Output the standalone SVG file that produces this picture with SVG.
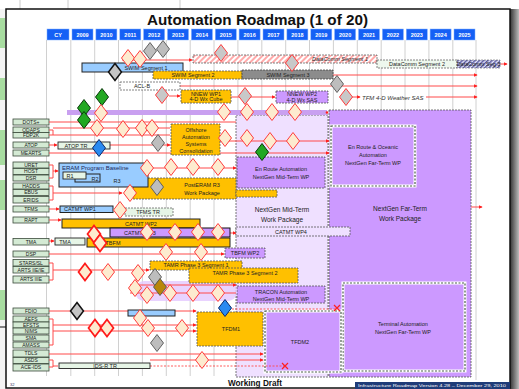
<svg xmlns="http://www.w3.org/2000/svg" width="519" height="389" viewBox="0 0 519 389">
<defs>
<style>
text{font-family:"Liberation Sans",Arial,sans-serif}
.lab{fill:#d4ead4;stroke:#3a4a3a;stroke-width:0.8}
.lt{font-size:5px;fill:#1a1a1a;text-anchor:middle}
.yr{fill:#1560f5;stroke:#7fb0ff;stroke-width:0.5}
.yt{font-size:5.5px;fill:#fff;font-weight:bold;text-anchor:middle}
.grid{stroke:#c4c4c4;stroke-width:0.8}
.rl{stroke:#ff4a4a;stroke-width:1;fill:none}
.rd{stroke:#ff4a4a;stroke-width:0.9;fill:none;stroke-dasharray:2,1.5}
.yel{fill:#ffc000;stroke:#555;stroke-width:0.8;stroke-dasharray:2,1}
.yelS{fill:#ffc000;stroke:#222;stroke-width:1}
.pur{fill:#cc99ff;stroke:#555;stroke-width:0.8;stroke-dasharray:2,1}
.lpur{fill:#efe0ff;stroke:#555;stroke-width:0.8;stroke-dasharray:2,1}
.lb{fill:#99ccff;stroke:#222;stroke-width:1}
.lg{fill:#e6f5e6;stroke:#222;stroke-width:0.9}
.bt{font-size:5.5px;fill:#222;text-anchor:middle}
.bx{font-size:6.5px;fill:#222;text-anchor:middle}
.dp{fill:#fdebcf;stroke:#ff3c3c;stroke-width:1}
.dr{fill:#fdebcf;stroke:#ff1a1a;stroke-width:1.7}
.dg{fill:#bdbdbd;stroke:#555;stroke-width:0.9}
.dpg{fill:#c8c8c8;stroke:#ff3c3c;stroke-width:1}
.dgr{fill:#22a822;stroke:#0a3a0a;stroke-width:1}
.dbl{fill:#2a8af0;stroke:#0a2a6a;stroke-width:1}
.dk{fill:#c4c4c4;stroke:#111;stroke-width:1.5}
.dgo{fill:#b8860b;stroke:#555;stroke-width:0.9}
.dd{stroke:#fff;stroke-width:3;fill:none}
.ddi{stroke:#4d5d4d;stroke-width:1.2;fill:none;stroke-dasharray:2,1.5}
</style>
<path id="dm" d="M0,-8.5 L6.5,0 L0,8.5 L-6.5,0Z"/>
<marker id="ah" viewBox="0 0 6 6" refX="5" refY="3" markerWidth="4" markerHeight="4" orient="auto"><path d="M0,0 L6,3 L0,6Z" fill="#ff2020"/></marker>
<pattern id="hatch" width="4" height="4" patternUnits="userSpaceOnUse" patternTransform="rotate(45)"><rect width="4" height="4" fill="#fff"/><rect width="2" height="4" fill="#ffaaaa"/></pattern>
<pattern id="hatch2" width="3" height="3" patternUnits="userSpaceOnUse" patternTransform="rotate(45)"><rect width="3" height="3" fill="#e8e8ff"/><rect width="1.5" height="3" fill="#5a5aa0"/></pattern>
<linearGradient id="shadow" x1="0" x2="1" y1="0" y2="0"><stop offset="0" stop-color="#333"/><stop offset="1" stop-color="#bbb"/></linearGradient>
</defs>

<!-- background slides -->
<rect x="0" y="0" width="519" height="389" fill="#f4f4f4"/>
<g id="backslides">
<rect x="0" y="0" width="519" height="9" fill="#fff"/>
<line x1="20" y1="0" x2="20" y2="9" stroke="#ccc"/>
<line x1="68" y1="0" x2="68" y2="9" stroke="#ccc"/>
<line x1="180" y1="0" x2="180" y2="9" stroke="#ccc"/>
<rect x="0" y="18" width="5" height="30" fill="#a8dca0"/>
<rect x="0" y="78" width="5" height="22" fill="#a8dca0"/>
<rect x="0" y="130" width="5" height="35" fill="#a8dca0"/>
<rect x="0" y="180" width="5" height="30" fill="#a8dca0"/>
<rect x="0" y="290" width="5" height="30" fill="#a8dca0"/>
<line x1="0" y1="327" x2="6" y2="327" stroke="#111"/>
<rect x="510" y="9" width="9" height="380" fill="url(#shadow)"/>
</g>

<rect id="frame" x="6" y="9" width="504" height="379" fill="#fff" stroke="#111" stroke-width="1.5"/>

<text id="title" x="257.5" y="25" font-size="15" font-weight="bold" text-anchor="middle" textLength="221" lengthAdjust="spacingAndGlyphs" fill="#111">Automation Roadmap (1 of 20)</text>

<!-- grid -->
<g id="grid" class="grid">
<line x1="46.5" y1="40" x2="46.5" y2="376"/>
<line x1="70.8" y1="40" x2="70.8" y2="376"/>
<line x1="94.7" y1="40" x2="94.7" y2="376"/>
<line x1="118.5" y1="40" x2="118.5" y2="376"/>
<line x1="142.4" y1="40" x2="142.4" y2="376"/>
<line x1="166.3" y1="40" x2="166.3" y2="376"/>
<line x1="190.2" y1="40" x2="190.2" y2="376"/>
<line x1="214" y1="40" x2="214" y2="376"/>
<line x1="237.9" y1="40" x2="237.9" y2="376"/>
<line x1="261.8" y1="40" x2="261.8" y2="376"/>
<line x1="285.7" y1="40" x2="285.7" y2="376"/>
<line x1="309.5" y1="40" x2="309.5" y2="376"/>
<line x1="333.4" y1="40" x2="333.4" y2="376"/>
<line x1="357.3" y1="40" x2="357.3" y2="376"/>
<line x1="381.2" y1="40" x2="381.2" y2="376"/>
<line x1="405" y1="40" x2="405" y2="376"/>
<line x1="428.9" y1="40" x2="428.9" y2="376"/>
<line x1="452.8" y1="40" x2="452.8" y2="376"/>
<line x1="476" y1="40" x2="476" y2="380"/>
</g>

<!-- year header -->
<g id="header">
<rect class="yr" x="47" y="29" width="22" height="11"/><text class="yt" x="58" y="36.5">CY</text>
<rect class="yr" x="72" y="29" width="21" height="11"/><text class="yt" x="82.5" y="36.5">2009</text>
<rect class="yr" x="95.9" y="29" width="21" height="11"/><text class="yt" x="106.4" y="36.5">2010</text>
<rect class="yr" x="119.8" y="29" width="21" height="11"/><text class="yt" x="130.3" y="36.5">2011</text>
<rect class="yr" x="143.6" y="29" width="21" height="11"/><text class="yt" x="154.1" y="36.5">2012</text>
<rect class="yr" x="167.5" y="29" width="21" height="11"/><text class="yt" x="178" y="36.5">2013</text>
<rect class="yr" x="191.4" y="29" width="21" height="11"/><text class="yt" x="201.9" y="36.5">2014</text>
<rect class="yr" x="215.3" y="29" width="21" height="11"/><text class="yt" x="225.8" y="36.5">2015</text>
<rect class="yr" x="239.1" y="29" width="21" height="11"/><text class="yt" x="249.6" y="36.5">2016</text>
<rect class="yr" x="263" y="29" width="21" height="11"/><text class="yt" x="273.5" y="36.5">2017</text>
<rect class="yr" x="286.9" y="29" width="21" height="11"/><text class="yt" x="297.4" y="36.5">2018</text>
<rect class="yr" x="310.8" y="29" width="21" height="11"/><text class="yt" x="321.3" y="36.5">2019</text>
<rect class="yr" x="334.6" y="29" width="21" height="11"/><text class="yt" x="345.1" y="36.5">2020</text>
<rect class="yr" x="358.5" y="29" width="21" height="11"/><text class="yt" x="369" y="36.5">2021</text>
<rect class="yr" x="382.4" y="29" width="21" height="11"/><text class="yt" x="392.9" y="36.5">2022</text>
<rect class="yr" x="406.3" y="29" width="21" height="11"/><text class="yt" x="416.8" y="36.5">2023</text>
<rect class="yr" x="430.1" y="29" width="21" height="11"/><text class="yt" x="440.6" y="36.5">2024</text>
<rect class="yr" x="454" y="29" width="21" height="11"/><text class="yt" x="464.5" y="36.5">2025</text>
</g>

<!-- work package regions -->
<g id="midterm">
<rect class="lpur" x="236" y="115" width="92" height="262"/>
<text class="bx" x="282" y="212" font-size="8">NextGen Mid-Term</text>
<text class="bx" x="282" y="222" font-size="8">Work Package</text>
</g>
<g id="farterm">
<rect class="pur" x="329" y="110" width="142" height="267"/>
<text class="bx" x="400" y="211" font-size="8">NextGen Far-Term</text>
<text class="bx" x="400" y="221" font-size="8">Work Package</text>
</g>
<g id="enroute-far">
<rect x="331" y="126" width="84" height="60" fill="#cc99ff"/>
<rect class="dd" x="331" y="126" width="84" height="60"/>
<rect class="ddi" x="331" y="126" width="84" height="60"/>
<text class="bt" x="373" y="149">En Route &amp; Oceanic</text>
<text class="bt" x="373" y="157">Automation</text>
<text class="bt" x="373" y="165">NextGen Far-Term WP</text>
</g>
<g id="terminal-far">
<rect x="343" y="283" width="122" height="88" fill="#cc99ff"/>
<rect class="dd" x="343" y="283" width="122" height="88"/>
<rect class="ddi" x="343" y="283" width="122" height="88"/>
<text class="bt" x="403" y="326">Terminal Automation</text>
<text class="bt" x="403" y="334">NextGen Far-Term WP</text>
</g>
<g id="enroute-mid">
<rect class="pur" x="237" y="157" width="88" height="31"/>
<text class="bt" x="281" y="171">En Route Automation</text>
<text class="bt" x="281" y="179">NextGen Mid-Term WP</text>
</g>
<g id="tracon-mid">
<rect class="pur" x="237" y="286" width="88" height="17"/>
<text class="bt" x="281" y="293.5">TRACON Automation</text>
<text class="bt" x="281" y="300.5">NextGen Mid-Term WP</text>
</g>
<g id="tfdm2">
<rect x="265" y="311" width="76" height="61" fill="#cc99ff"/>
<rect class="dd" x="265" y="311" width="76" height="61"/>
<rect class="ddi" x="265" y="311" width="76" height="61"/>
<text class="bt" x="300" y="344">TFDM2</text>
</g>
<g id="tamr-band">
<rect x="135" y="281" width="102" height="20" rx="9" fill="#e3c8ff" opacity="0.8"/>
</g>

<!-- labels -->
<g id="labels">
<g id="l-dots"><rect class="lab" x="13" y="119" width="36" height="6"/><text class="lt" x="31" y="123.8">DOTS+</text></g>
<g id="l-odaps"><rect class="lab" x="13" y="127" width="36" height="5.5"/><text class="lt" x="31" y="131.5">ODAPS</text></g>
<g id="l-fdp2k"><rect class="lab" x="13" y="132.5" width="36" height="5.5"/><text class="lt" x="31" y="137">FDP2K</text></g>
<g id="l-atop"><rect class="lab" x="13" y="142" width="36" height="6"/><text class="lt" x="31" y="146.8">ATOP</text></g>
<g id="l-mearts"><rect class="lab" x="13" y="150" width="36" height="6"/><text class="lt" x="31" y="154.8">MEARTS</text></g>
<g id="l-uret"><rect class="lab" x="13" y="162" width="36" height="6"/><text class="lt" x="31" y="166.8">URET</text></g>
<g id="l-host"><rect class="lab" x="13" y="168.5" width="36" height="6"/><text class="lt" x="31" y="173.3">HOST</text></g>
<g id="l-dsr"><rect class="lab" x="13" y="175" width="36" height="6"/><text class="lt" x="31" y="179.8">DSR</text></g>
<g id="l-hadds"><rect class="lab" x="13" y="183" width="36" height="6"/><text class="lt" x="31" y="187.8">HADDS</text></g>
<g id="l-ebus"><rect class="lab" x="13" y="189.5" width="36" height="6"/><text class="lt" x="31" y="194.3">EBUS</text></g>
<g id="l-erids"><rect class="lab" x="13" y="196.5" width="36" height="6.5"/><text class="lt" x="31" y="201.5">ERIDS</text></g>
<g id="l-tfms"><rect class="lab" x="13" y="206" width="36" height="6"/><text class="lt" x="31" y="210.8">TFMS</text></g>
<g id="l-rapt"><rect class="lab" x="13" y="217" width="36" height="6"/><text class="lt" x="31" y="221.8">RAPT</text></g>
<g id="l-tma"><rect class="lab" x="13" y="238.5" width="36" height="6.5"/><text class="lt" x="31" y="243.5">TMA</text></g>
<g id="l-dsp"><rect class="lab" x="13" y="251" width="36" height="6"/><text class="lt" x="31" y="255.8">DSP</text></g>
<g id="l-stars"><rect class="lab" x="13" y="259.5" width="36" height="6.5"/><text class="lt" x="31" y="264.5">STARS/SL</text></g>
<g id="l-arts2"><rect class="lab" x="13" y="266.5" width="36" height="6.5"/><text class="lt" x="31" y="271.5">ARTS IIE/IE</text></g>
<g id="l-arts3"><rect class="lab" x="13" y="276" width="36" height="7"/><text class="lt" x="31" y="281.3">ARTS IIIE</text></g>
<g id="l-fdio"><rect class="lab" x="13" y="308" width="36" height="6"/><text class="lt" x="31" y="312.8">FDIO</text></g>
<g id="l-aefs"><rect class="lab" x="13" y="316" width="36" height="6"/><text class="lt" x="31" y="320.8">AEFS</text></g>
<g id="l-efsts"><rect class="lab" x="13" y="322" width="36" height="6"/><text class="lt" x="31" y="326.8">EFSTS</text></g>
<g id="l-nims"><rect class="lab" x="13" y="328" width="36" height="6"/><text class="lt" x="31" y="332.8">NIMS</text></g>
<g id="l-sma"><rect class="lab" x="13" y="335" width="36" height="6"/><text class="lt" x="31" y="339.8">SMA</text></g>
<g id="l-amass"><rect class="lab" x="13" y="342" width="36" height="6"/><text class="lt" x="31" y="346.8">AMASS</text></g>
<g id="l-tdls"><rect class="lab" x="13" y="350" width="36" height="7"/><text class="lt" x="31" y="355.3">TDLS</text></g>
<g id="l-asds"><rect class="lab" x="13" y="357.5" width="36" height="6"/><text class="lt" x="31" y="362.3">ASDS</text></g>
<g id="l-aceids"><rect class="lab" x="13" y="364" width="36" height="7"/><text class="lt" x="31" y="369.3">ACE-IDS</text></g>
</g>

<!-- connectors -->
<g id="connectors">
<path class="rl" d="M122,60 H192" marker-end="url(#ah)"/>
<path class="rl" d="M242,75 H477" marker-end="url(#ah)"/>
<path class="rl" d="M180,86 H477" marker-end="url(#ah)"/>
<path class="rl" d="M169,96 H180" marker-end="url(#ah)"/>
<path class="rl" d="M231,97 H275" marker-end="url(#ah)"/>
<path class="rl" d="M352,97 H360" marker-end="url(#ah)"/>
<path class="rl" d="M426,97 H477" marker-end="url(#ah)"/>
<path class="rl" d="M500,64 H507" marker-end="url(#ah)"/>
<path class="rl" d="M49,122 H236"/>
<path class="rl" d="M49,130 H53 V135 H49 M53,128 H170 M53,135 H170"/>
<path class="rl" d="M49,145 H57" marker-end="url(#ah)"/>
<path class="rl" d="M110,145 H170" marker-end="url(#ah)"/>
<path class="rl" d="M49,153 H329" marker-end="url(#ah)"/>
<path class="rl" d="M220,141 H329" marker-end="url(#ah)"/>
<path class="rl" d="M49,165 H53 V178 H49 M53,171 H58" marker-end="url(#ah)"/>
<path class="rl" d="M148,168 H236" marker-end="url(#ah)"/>
<path class="rl" d="M49,186 H53 V200 H49 M53,193 H122" marker-end="url(#ah)"/>
<path class="rl" d="M49,209 H59" marker-end="url(#ah)"/>
<path class="rl" d="M49,220 H61" marker-end="url(#ah)"/>
<path class="rl" d="M49,241 H54" marker-end="url(#ah)"/>
<path class="rl" d="M200,233 H236" marker-end="url(#ah)"/>
<path class="rl" d="M49,254 H224" marker-end="url(#ah)"/>
<path class="rl" d="M49,263 H53 V280 H49 M53,270 H149" marker-end="url(#ah)"/>
<path class="rl" d="M130,285 H236" marker-end="url(#ah)"/>
<path class="rl" d="M130,293 H236"/>
<path class="rl" d="M49,311 H196" marker-end="url(#ah)"/>
<path class="rd" d="M225,309 H337"/>
<path class="rl" d="M49,319 H53 V345 H49 M53,325 H196" marker-end="url(#ah)"/>
<path class="rl" d="M53,331 H196" marker-end="url(#ah)"/>
<path class="rl" d="M49,354 H263" marker-end="url(#ah)"/>
<path class="rl" d="M150,360 H263" marker-end="url(#ah)"/>
<path class="rl" d="M49,360 H53 V367 H49 M53,366 H58"/>
<path class="rd" d="M150,366 H285"/>
<path class="rl" d="M471,207 H482" marker-end="url(#ah)"/>
<path d="M334,305 L340,311 M340,305 L334,311" stroke="#ff2020" stroke-width="1.2"/>
<path d="M282,363 L288,369 M288,363 L282,369" stroke="#ff2020" stroke-width="1.2"/>
</g>

<!-- bars -->
<g id="swim1"><rect class="lb" x="82" y="63" width="101" height="9"/><text class="bt" x="146" y="69.8">SWIM Segment 1</text></g>
<g id="swim2"><rect class="yel" x="153" y="71" width="89" height="8"/><text class="bt" x="193" y="77">SWIM Segment 2</text></g>
<g id="swim3"><rect x="242" y="70" width="91" height="9" fill="#8c8c8c" stroke="#444" stroke-width="0.8" stroke-dasharray="2,1"/><text class="bt" x="288" y="76.5">SWIM Segment 3</text></g>
<g id="datacomm1"><rect x="193" y="55" width="184" height="8" fill="url(#hatch)" stroke="#666" stroke-width="0.8" stroke-dasharray="2,1"/><text class="bt" x="340" y="61" font-style="italic">DataComm Segment 1</text></g>
<g id="datacomm2"><rect x="377" y="60" width="80" height="8" fill="#eef8ee" stroke="#666" stroke-width="0.8" stroke-dasharray="2,1"/><text class="bt" x="417" y="66">DataComm Segment 2</text></g>
<g id="datacomm3"><rect x="457" y="60" width="43" height="8" fill="url(#hatch2)" stroke="#666" stroke-width="0.6" stroke-dasharray="2,1"/><text class="bt" x="478.5" y="66" font-size="4.8">DataComm Seg 3</text></g>
<g id="aclb"><rect x="120" y="82" width="60" height="8" fill="#fff" stroke="#666" stroke-width="0.8" stroke-dasharray="2,1"/><text class="bt" x="142" y="88">ACL-B</text></g>
<g id="nnew1"><rect class="yel" x="181" y="90" width="50" height="13"/><text class="bt" x="206" y="95.5" font-size="5">NNEW WP1</text><text class="bt" x="206" y="101" font-size="5">4-D Wx Cube</text></g>
<g id="nnew2"><rect class="pur" x="276" y="91" width="52" height="12"/><text class="bt" x="302" y="96" font-size="5">NNEW WP2</text><text class="bt" x="302" y="101.5" font-size="5">4-D Wx SAS</text></g>
<g id="tfm4d"><text x="362" y="99.5" font-size="6" font-style="italic" fill="#333">TFM 4-D Weather SAS</text></g>
<g id="convbar"><rect x="67" y="110" width="260" height="5" fill="#c9a0f0"/><circle cx="327" cy="112.5" r="1.3" fill="#ff2020"/></g>
<g id="offshore"><rect class="yel" x="171" y="124" width="49" height="31"/>
<text class="bt" x="196" y="132" font-size="6">Offshore</text><text class="bt" x="196" y="139" font-size="6">Automation</text><text class="bt" x="196" y="146" font-size="6">Systems</text><text class="bt" x="196" y="153" font-size="6">Consolidation</text></g>
<g id="atoptr"><rect class="lg" x="58" y="142" width="52" height="7"/><text class="bt" x="76" y="147.5">ATOP TR</text></g>
<g id="posteram"><rect class="yel" x="133" y="178" width="103" height="21"/><text class="bt" x="202" y="187" font-size="6">PostERAM R3</text><text class="bt" x="202" y="195" font-size="6">Work Package</text></g>
<g id="eram"><rect class="lb" x="59" y="163" width="89" height="24"/><text x="62" y="169.5" font-size="6" fill="#1a2a5a">ERAM Program Baseline</text>
<rect class="lb" x="75" y="174" width="25" height="8" fill="#cfe6ff"/><text class="bt" x="95" y="180.5" font-size="4.5">R2</text>
<rect class="lg" x="63" y="172" width="23" height="7"/><text class="bt" x="70" y="177.5" font-size="4.5">R1</text>
<text class="bt" x="117" y="183" font-size="4.5">R3</text></g>
<g id="smallyel"><rect class="yel" x="236" y="190" width="41" height="7"/></g>
<g id="catmt1"><rect class="lb" x="60" y="206" width="53" height="6.5"/><text class="bt" x="80" y="211.3" font-size="5">CATMT WP1</text></g>
<g id="tfmstr"><rect x="125" y="208" width="48" height="8" fill="#e6f5e6" stroke="#666" stroke-width="0.8" stroke-dasharray="2,1"/><text class="bt" x="148" y="214">TFMS TR</text></g>
<g id="catmt2"><rect class="yelS" x="62" y="219" width="138" height="9"/><text class="bt" x="141" y="225.8" font-size="6">CATMT WP2</text></g>
<g id="catmt3"><rect x="110" y="228" width="120" height="9" fill="#cc99ff" stroke="#111" stroke-width="1"/><text class="bt" x="140" y="234.8">CATMT WP3</text></g>
<g id="catmt4"><rect class="lpur" x="236" y="227" width="114" height="9"/><text class="bt" x="291" y="233.8">CATMT WP4</text></g>
<g id="tmabox"><rect class="lg" x="55" y="238" width="30" height="7"/><text class="bt" x="65" y="243.5">TMA</text></g>
<g id="tbfm"><rect class="yelS" x="87" y="238" width="143" height="9"/><text class="bt" x="113" y="244.8">TBFM</text></g>
<g id="tbfm2"><rect class="pur" x="225" y="248" width="40" height="10"/><text class="bt" x="245" y="255">TBFM WP2</text></g>
<g id="tamr1"><rect class="yel" x="150" y="261" width="92" height="9"/><text class="bt" x="196" y="267" font-size="5">TAMR Phase 3 Segment 1</text></g>
<g id="tamr2"><rect class="yel" x="189" y="268" width="109" height="15"/><text class="bt" x="245" y="274.5" font-size="5">TAMR Phase 3 Segment 2</text></g>
<g id="tfdm1"><rect class="yel" x="197" y="312" width="66" height="34"/><text class="bt" x="231" y="331" font-size="6">TFDM1</text></g>
<g id="ids-bar"><rect class="lb" x="128" y="310" width="47" height="6"/></g>
<g id="idsrtr"><rect class="lg" x="59" y="363" width="91" height="5.5"/><text class="bt" x="105" y="367.6" font-size="4.8">IDS-R TR</text></g>

<!-- milestones -->
<g id="milestones">
<use href="#dm" class="dg" x="150" y="51"/>
<use href="#dm" class="dg" x="163" y="49"/>
<use href="#dm" class="dp" x="128" y="58"/>
<use href="#dm" class="dp" x="140" y="59"/>
<use href="#dm" class="dk" x="115" y="72"/>
<use href="#dm" class="dpg" x="162" y="95"/>
<use href="#dm" class="dpg" x="221" y="53"/>
<use href="#dm" class="dpg" x="245" y="96"/>
<use href="#dm" class="dpg" x="292" y="63"/>
<use href="#dm" class="dg" x="337" y="84"/>
<use href="#dm" class="dpg" x="346" y="97"/>
<use href="#dm" class="dgr" x="102" y="97"/>
<use href="#dm" class="dgr" x="84" y="108"/>
<use href="#dm" class="dgr" x="84" y="120"/>
<use href="#dm" class="dp" x="101" y="113"/>
<use href="#dm" class="dp" x="224" y="112"/>
<use href="#dm" class="dp" x="247" y="112"/>
<use href="#dm" class="dp" x="272" y="112"/>
<use href="#dm" class="dp" x="295" y="112"/>
<use href="#dm" class="dp" x="97" y="128"/>
<use href="#dm" class="dp" x="123" y="129"/>
<use href="#dm" class="dp" x="142" y="128"/>
<use href="#dm" class="dp" x="152" y="128"/>
<use href="#dm" class="dg" x="158" y="143"/>
<use href="#dm" class="dp" x="225" y="138"/>
<use href="#dm" class="dp" x="247" y="138"/>
<use href="#dm" class="dp" x="270" y="141"/>
<use href="#dm" class="dp" x="293" y="141"/>
<use href="#dm" class="dgr" x="262" y="152"/>
<use href="#dm" class="dbl" x="99" y="148"/>
<use href="#dm" class="dp" x="147" y="168"/>
<use href="#dm" class="dp" x="171" y="167"/>
<use href="#dm" class="dp" x="193" y="167"/>
<use href="#dm" class="dp" x="218" y="167"/>
<use href="#dm" class="dp" x="130" y="193"/>
<use href="#dm" class="dg" x="157" y="187"/>
<use href="#dm" class="dp" x="120" y="210"/>
<use href="#dm" class="dr" x="94" y="234"/>
<use href="#dm" class="dr" x="100" y="243"/>
<use href="#dm" class="dp" x="147" y="232"/>
<use href="#dm" class="dp" x="175" y="232"/>
<use href="#dm" class="dp" x="198" y="232"/>
<use href="#dm" class="dp" x="218" y="232"/>
<use href="#dm" class="dp" x="166" y="252"/>
<use href="#dm" class="dp" x="201" y="252"/>
<use href="#dm" class="dr" x="85" y="272"/>
<use href="#dm" class="dp" x="108" y="272"/>
<use href="#dm" class="dp" x="138" y="273"/>
<use href="#dm" class="dp" x="135" y="288"/>
<use href="#dm" class="dp" x="147" y="295"/>
<use href="#dm" class="dp" x="170" y="293"/>
<use href="#dm" class="dp" x="193" y="293"/>
<use href="#dm" class="dp" x="218" y="293"/>
<use href="#dm" class="dg" x="155" y="277"/>
<use href="#dm" class="dgo" x="160" y="287"/>
<use href="#dm" class="dbl" x="225" y="308"/>
<use href="#dm" class="dk" x="77" y="311"/>
<use href="#dm" class="dp" x="140" y="318"/>
<use href="#dm" class="dp" x="148" y="328"/>
<use href="#dm" class="dp" x="182" y="328"/>
<use href="#dm" class="dr" x="95" y="328"/>
<use href="#dm" class="dr" x="107" y="328"/>
<use href="#dm" class="dg" x="157" y="343"/>
<use href="#dm" class="dp" x="202" y="360"/>
</g>

<!-- footer -->
<g id="footer">
<text x="255" y="386" font-size="9.5" font-weight="900" text-anchor="middle" textLength="54" lengthAdjust="spacingAndGlyphs" fill="#111">Working Draft</text>
<text x="10" y="386" font-size="4" fill="#336">32</text>
<rect x="355" y="382" width="155" height="7" fill="#1f3c78"/>
<text x="358" y="387.3" font-size="4.3" fill="#fff" textLength="148" lengthAdjust="spacingAndGlyphs">Infrastructure Roadmap  Version 4.28 – December 29, 2010</text>
</g>
</svg>
